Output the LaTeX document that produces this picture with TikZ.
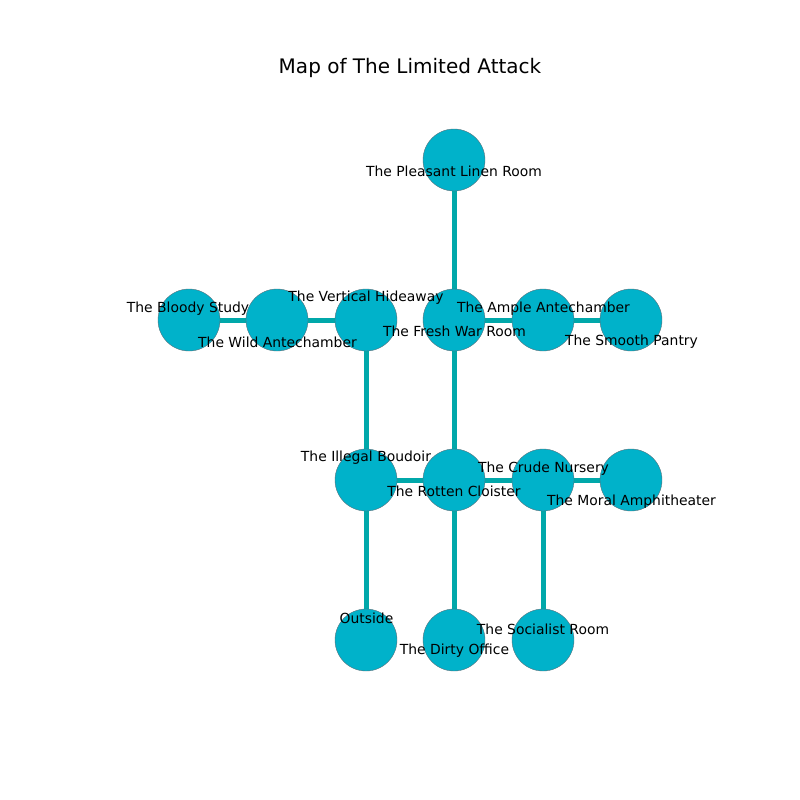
\documentclass[tikz,border=0pt]{standalone}
\usepackage{fontspec}
\setmainfont{DejaVu Sans}
\definecolor{nodefill}{RGB}{0,178,202}
\definecolor{edgecol}{RGB}{0,168,170}
\definecolor{nodeline}{RGB}{90,110,120}
\begin{document}
\begin{tikzpicture}[x=1pt,y=-1pt,
  room/.style={circle,fill=nodefill,draw=nodeline,line width=0.4pt,minimum size=62pt,inner sep=0pt},
  link/.style={edgecol,line width=5pt},
  lbl/.style={font=\fontsize{13.9}{16}\selectfont,inner sep=0pt,text=black,yshift=-1pt}]
\useasboundingbox (0,0) rectangle (800,800);
\node[font=\fontsize{20}{24}\selectfont,inner sep=0pt] (title) at (410,68) {Map of The Limited Attack};
% nodes
\coordinate (pL) at (454,160);
\coordinate (pB) at (189,320);
\coordinate (pW) at (277,320);
\coordinate (pV) at (366,320);
\coordinate (pF) at (454,320);
\coordinate (pA) at (543,320);
\coordinate (pS) at (631,320);
\coordinate (pI) at (366,480);
\coordinate (pR) at (454,480);
\coordinate (pC) at (543,480);
\coordinate (pM) at (631,480);
\coordinate (pO) at (366,640);
\coordinate (pD) at (454,640);
\coordinate (pSo) at (543,640);
% edges
\draw[link] (pL) -- (pF);
\draw[link] (pB) -- (pW);
\draw[link] (pW) -- (pV);
\draw[link] (pV) -- (pI);
\draw[link] (pF) -- (pA);
\draw[link] (pA) -- (pS);
\draw[link] (pF) -- (pR);
\draw[link] (pI) -- (pR);
\draw[link] (pR) -- (pC);
\draw[link] (pC) -- (pM);
\draw[link] (pI) -- (pO);
\draw[link] (pR) -- (pD);
\draw[link] (pC) -- (pSo);
% circles
\node[room] (nL) at (pL) {};
\node[room] (nB) at (pB) {};
\node[room] (nW) at (pW) {};
\node[room] (nV) at (pV) {};
\node[room] (nF) at (pF) {};
\node[room] (nA) at (pA) {};
\node[room] (nS) at (pS) {};
\node[room] (nI) at (pI) {};
\node[room] (nR) at (pR) {};
\node[room] (nC) at (pC) {};
\node[room] (nM) at (pM) {};
\node[room] (nO) at (pO) {};
\node[room] (nD) at (pD) {};
\node[room] (nSo) at (pSo) {};
% labels
\node[lbl] (tL) at (454,170) {The Pleasant Linen Room};
\node[lbl] (tB) at (188,308) {The Bloody Study};
\node[lbl] (tW) at (277.5,341) {The Wild Antechamber};
\node[lbl] (tV) at (366,297) {The Vertical Hideaway};
\node[lbl] (tF) at (454.5,330) {The Fresh War Room};
\node[lbl] (tA) at (543.5,308) {The Ample Antechamber};
\node[lbl] (tS) at (631.5,341) {The Smooth Pantry};
\node[lbl] (tI) at (366,457) {The Illegal Boudoir};
\node[lbl] (tR) at (454,490) {The Rotten Cloister};
\node[lbl] (tC) at (543.5,468) {The Crude Nursery};
\node[lbl] (tM) at (631.5,501) {The Moral Amphitheater};
\node[lbl] (tO) at (366.5,617) {Outside};
\node[lbl] (tD) at (454.5,650) {The Dirty Office};
\node[lbl] (tSo) at (543,628) {The Socialist Room};
\end{tikzpicture}
\end{document}
